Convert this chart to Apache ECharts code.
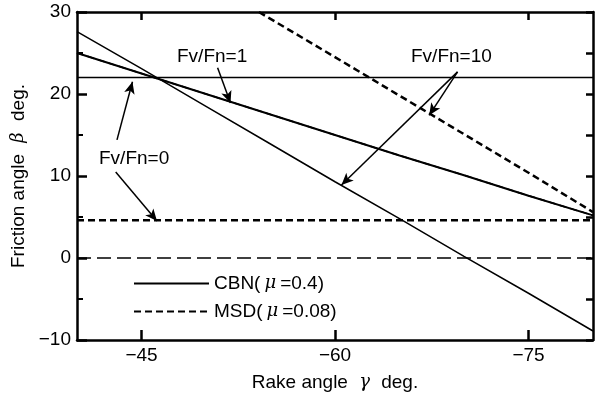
<!DOCTYPE html>
<html>
<head>
<meta charset="utf-8">
<script src="https://cdn.jsdelivr.net/npm/echarts@6/dist/echarts.min.js"></script>
<style>
  html, body { margin: 0; padding: 0; background: #fff; }
  #main { width: 600px; height: 396px; }
</style>
</head>
<body>
<div id="main"></div>
<script>
// rake angle (deg) points
var rake = [-40, -45, -50, -55, -60, -65, -70, -75, -80];
var rakeTicks = [-45, -60, -75];
// CBN (mu=0.4)
var cbnFv0 = [22, 22, 22, 22, 22, 22, 22, 22, 22];
var cbnFv1 = [25, 22.5, 20, 17.5, 15, 12.5, 10.1, 7.6, 5.2];
var cbnFv10 = [27.6, 23.1, 18.5, 13.9, 9.3, 4.8, 0.2, -4.3, -8.9];
// MSD (mu=0.08)
var msdFv0 = [4.6, 4.6, 4.6, 4.6, 4.6, 4.6, 4.6, 4.6, 4.6];
var msdFv1 = cbnFv1;
var msdFv10Rake = [-54.1, -60, -65, -70, -75, -80];
var msdFv10 = [30, 24.5, 19.8, 15.1, 10.4, 5.6];
var zeroLine = [0, 0, 0, 0, 0, 0, 0, 0, 0];

var font = '"Liberation Sans", Arial, sans-serif';

function pairs(xs, ys) {
  return xs.map(function (x, i) { return [x, ys[i]]; });
}
function minus(v) {
  return String(v).replace('-', '\u2212');
}

// annotation arrows: [from, to] in data coords
var arrows = [
  [[-50.9, 23.2], [-51.9, 18.9]],
  [[-69.5, 22.7], [-60.5, 8.9]],
  [[-69.5, 22.7], [-67.3, 17.4]],
  [[-43.1, 14.4], [-44.3, 21.5]],
  [[-43.0, 10.5], [-46.2, 4.5]]
];

var myChart = echarts.init(document.getElementById('main'));

var solid = { color: '#000', width: 1.5, type: 'solid' };
var dashed = { color: '#000', width: 2.5, type: [7, 4] };
var greek = { fontStyle: 'italic', fontFamily: '"DejaVu Serif", serif', fontSize: 18, color: '#000', padding: [0, 4, 0, 4] };

myChart.setOption({
  animation: false,
  backgroundColor: '#fff',
  grid: { left: 77, right: 7, top: 12, bottom: 56, outerBoundsMode: 'none', containLabel: false },
  legend: {
    orient: 'vertical',
    left: 128,
    top: 269,
    itemWidth: 75,
    itemHeight: 12,
    itemGap: 9,
    itemStyle: { opacity: 0 },
    data: ['CBN(μ=0.4)', 'MSD(μ=0.08)'],
    formatter: function (n) {
      return n.replace('μ', '{i|μ}');
    },
    textStyle: {
      fontFamily: font, fontSize: 19, color: '#000',
      rich: { i: greek }
    },
    selectedMode: false
  },
  xAxis: [{
    type: 'value',
    inverse: true,
    min: -80, max: -40,
    position: 'bottom',
    name: 'Rake angle {g|γ} deg.',
    nameLocation: 'middle',
    nameGap: 33,
    nameTextStyle: {
      fontFamily: font, fontSize: 19, color: '#000',
      rich: { g: { fontStyle: 'italic', fontFamily: '"DejaVu Serif", serif', fontSize: 18, padding: [0, 6, 0, 6] } }
    },
    axisLine: { onZero: false, lineStyle: { color: '#000', width: 2.5 } },
    axisTick: { inside: true, length: 10, customValues: rakeTicks, lineStyle: { width: 2.5 } },
    axisLabel: { customValues: rakeTicks, formatter: minus, fontFamily: font, fontSize: 19, color: '#000', margin: 6 },
    splitLine: { show: false }
  }, {
    type: 'value',
    inverse: true,
    min: -80, max: -40,
    position: 'top',
    axisLine: { onZero: false, lineStyle: { color: '#000', width: 2.5 } },
    axisTick: { inside: true, length: 8, customValues: rakeTicks, lineStyle: { width: 2.5 } },
    axisLabel: { show: false },
    splitLine: { show: false }
  }],
  yAxis: [{
    type: 'value',
    min: -10, max: 30, interval: 10,
    position: 'left',
    name: 'Friction angle {b|β} deg.',
    nameLocation: 'middle',
    nameGap: 44,
    nameTextStyle: {
      fontFamily: font, fontSize: 19, color: '#000',
      rich: { b: { fontStyle: 'italic', fontFamily: '"DejaVu Serif", serif', fontSize: 18, padding: [0, 6, 0, 6] } }
    },
    axisLine: { show: true, onZero: false, lineStyle: { color: '#000', width: 2.5 } },
    axisTick: { inside: true, length: 10, lineStyle: { width: 2.5 } },
    minorTick: { show: true, splitNumber: 2, length: 6, lineStyle: { color: '#000', width: 2 } },
    axisLabel: { formatter: minus, fontFamily: font, fontSize: 19, color: '#000', margin: 6 },
    splitLine: { show: false }
  }, {
    type: 'value',
    min: -10, max: 30, interval: 5,
    position: 'right',
    axisLine: { show: true, onZero: false, lineStyle: { color: '#000', width: 2.5 } },
    axisTick: { inside: true, length: 7, lineStyle: { width: 2.5 } },
    axisLabel: { show: false },
    splitLine: { show: false }
  }],
  series: [{
    name: 'CBN(μ=0.4)', type: 'line', symbol: 'none',
    data: pairs(rake, cbnFv0), lineStyle: solid, itemStyle: { color: '#000' }
  }, {
    name: 'CBN(μ=0.4)', type: 'line', symbol: 'none',
    data: pairs(rake, cbnFv1), lineStyle: { color: '#000', width: 2 }, itemStyle: { color: '#000' }
  }, {
    name: 'CBN(μ=0.4)', type: 'line', symbol: 'none',
    data: pairs(rake, cbnFv10), lineStyle: solid, itemStyle: { color: '#000' }
  }, {
    name: 'MSD(μ=0.08)', type: 'line', symbol: 'none',
    data: pairs(rake, msdFv0), lineStyle: dashed, itemStyle: { color: '#000' }
  }, {
    name: 'MSD(μ=0.08)', type: 'line', symbol: 'none',
    data: pairs(rake, msdFv1), lineStyle: { color: '#000', width: 1.5, type: [7, 4] }, itemStyle: { color: '#000' }
  }, {
    name: 'MSD(μ=0.08)', type: 'line', symbol: 'none',
    data: pairs(msdFv10Rake, msdFv10), lineStyle: dashed, itemStyle: { color: '#000' }
  }, {
    name: 'zero', type: 'line', symbol: 'none',
    data: pairs(rake, zeroLine), lineStyle: { color: '#000', width: 1.5, type: [14, 6] },
    markLine: {
      silent: true,
      symbol: ['none', 'arrow'],
      symbolSize: [8, 12],
      lineStyle: { color: '#000', width: 1.5, type: 'solid' },
      label: { show: false },
      data: arrows.map(function (a) {
        return [{ coord: a[0] }, { coord: a[1] }];
      })
    }
  }],
  graphic: [
    { type: 'text', left: 177, top: 47, style: { text: 'Fv/Fn=1', font: '19px ' + font, fill: '#000' } },
    { type: 'text', left: 411, top: 47, style: { text: 'Fv/Fn=10', font: '19px ' + font, fill: '#000' } },
    { type: 'text', left: 99, top: 149, style: { text: 'Fv/Fn=0', font: '19px ' + font, fill: '#000' } }
  ]
});
</script>
</body>
</html>
